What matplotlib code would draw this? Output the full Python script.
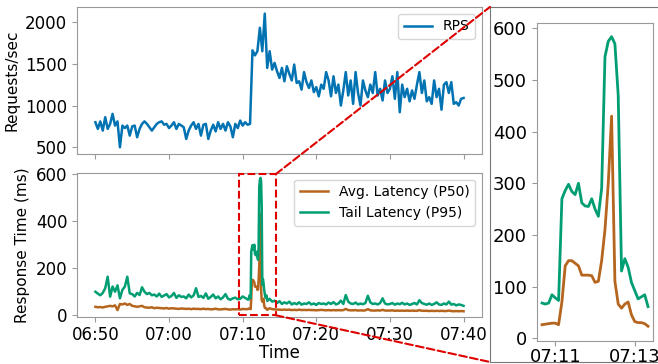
import matplotlib
matplotlib.use('Agg')
import matplotlib.pyplot as plt
import matplotlib.dates as mdates
from matplotlib.patches import Rectangle, ConnectionPatch
import pandas as pd

# ── RPS, one sample every 20 s from 06:50:00 to 07:40:00 ─────────
rps = [
    800, 720, 810, 700, 860, 720, 780, 900, 760, 810, 500, 760,
    730, 760, 640, 750, 760, 620, 720, 780, 810, 780, 740, 700,
    740, 780, 800, 810, 770, 780, 730, 760, 800, 720, 780, 760,
    740, 600, 700, 760, 800, 720, 780, 640, 770, 780, 600, 700,
    770, 690, 800, 720, 780, 700, 800, 750, 620, 780, 730, 820,
    760, 800, 770, 780, 1660, 1600,
    1650, 1930, 1650, 2100, 1450, 1650, 1430, 1510, 1410,
    1330, 1450, 1290, 1470, 1380, 1300, 1490, 1270, 1290,
    1190, 1400, 1280, 1210, 1300, 1160, 1220, 1110, 1250,
    1200, 1400, 1300, 1110, 1350, 1150, 1250, 1000, 1180,
    1400, 1120, 1300, 1020, 1400, 1150, 1000, 1300, 1180,
    1100, 1250, 1150, 1400, 1120, 1200, 1060, 1300, 1150,
    1200, 1350, 1080, 1400, 920, 1250, 1100, 1200, 1050,
    1180, 1080, 1250, 1400, 1150, 1300, 1050, 1100, 1020,
    1300, 1100, 1200, 950, 1250, 1280, 1150, 1280, 1020,
    1040, 1000, 1080, 1090,
]

# ── Latency (ms): 20 s samples before/after the incident, 5 s during ──
p95_pre = [
    100, 92, 85, 95, 115, 164, 79, 122, 100, 127, 72, 108,
    122, 164, 93, 90, 80, 95, 86, 119, 100, 90, 95, 85,
    88, 80, 92, 78, 84, 90, 76, 82, 95, 74, 85, 78,
    80, 72, 88, 76, 84, 115, 78, 82, 74, 93, 70, 78,
    88, 72, 80, 68, 76, 90, 70, 66, 72, 75, 68, 70,
    80, 74,
]
p50_pre = [
    36, 34, 35, 33, 36, 38, 40, 38, 42, 22, 48, 46,
    50, 44, 48, 40, 38, 36, 38, 40, 34, 33, 32, 34,
    30, 32, 31, 30, 29, 31, 28, 30, 29, 28, 27, 29,
    28, 27, 28, 26, 28, 27, 27, 26, 28, 26, 27, 25,
    26, 28, 25, 25, 26, 27, 25, 24, 26, 25, 26, 24,
    27, 26,
]
p95_zoom = [
    68, 66, 68, 84, 78, 73, 270, 286, 298, 284, 278, 300,
    262, 256, 255, 270, 250, 236, 290, 545, 575, 584, 570, 470,
    130, 154, 137, 108, 92, 76, 80, 84, 61,
]
p50_zoom = [
    26, 27, 28, 29, 29, 26, 70, 140, 150, 150, 145, 140,
    122, 122, 122, 121, 108, 110, 150, 210, 300, 430, 110, 66,
    58, 66, 70, 45, 32, 30, 30, 28, 23,
]
p95_post = [
    70, 58, 62, 52,
    60, 48, 55, 50, 58, 46, 52, 47, 55, 45, 50, 48, 55, 46, 50,
    44, 52, 48, 50, 46, 54, 48, 56, 46, 50, 62, 48, 86, 58, 50,
    48, 54, 46, 50, 47, 52, 83, 55, 48, 50, 46, 52, 72, 50, 46,
    48, 52, 45, 50, 47, 53, 46, 50, 44, 48, 52, 46, 64, 52, 48,
    45, 50, 44, 48, 55, 46, 44, 50, 46, 58, 45, 48, 42, 46, 44,
    40,
]
p50_post = [
    30, 26, 25, 24,
    24, 23, 24, 23, 24, 22, 23, 22, 24, 22, 23, 22, 23, 22, 22,
    21, 22, 23, 22, 21, 22, 21, 22, 21, 22, 21, 22, 27, 22, 21,
    21, 22, 20, 21, 20, 21, 26, 21, 20, 20, 21, 20, 23, 20, 20,
    20, 21, 19, 20, 19, 20, 19, 20, 19, 20, 19, 19, 22, 19, 19,
    19, 18, 19, 18, 19, 18, 19, 18, 18, 20, 18, 17, 18, 17, 18,
    17,
]

DAY = "2024-01-01 "
t_rps = pd.date_range(DAY + "06:50:00", periods=len(rps), freq="20s")
t_pre = pd.date_range(DAY + "06:50:00", periods=len(p95_pre), freq="20s")
t_zoom = pd.date_range(DAY + "07:10:40", periods=len(p95_zoom), freq="5s")
t_post = pd.date_range(DAY + "07:13:40", periods=len(p95_post), freq="20s")
t_lat = t_pre.append(t_zoom).append(t_post)
p95 = p95_pre + p95_zoom + p95_post
p50 = p50_pre + p50_zoom + p50_post

BLUE = '#0173B2'
BROWN = '#B5651D'
GREEN = '#029E73'
RED = '#e00000'
EDGE = '#999999'


def style(ax, size=12):
    for s in ax.spines.values():
        s.set_color(EDGE)
    ax.tick_params(labelsize=size, color=EDGE)


fig = plt.figure(figsize=(6.58, 3.64), dpi=100)
ax_rps = fig.add_axes([0.117, 0.577, 0.6155, 0.404])
ax_lat = fig.add_axes([0.117, 0.130, 0.6155, 0.3955], sharex=ax_rps)
frame = fig.add_axes([0.7447, 0.0055, 0.2538, 0.9755])
ax_zoom = fig.add_axes([0.8157, 0.064, 0.1772, 0.8736])

# top: throughput
ax_rps.plot(t_rps, rps, color=BLUE, lw=1.8, label='RPS')
ax_rps.set_ylabel('Requests/sec', fontsize=11)
ax_rps.legend(loc='upper right', fontsize=10)
ax_rps.tick_params(labelbottom=False)
style(ax_rps)

# bottom: latency
ax_lat.plot(t_lat, p50, color=BROWN, lw=1.8, label='Avg. Latency (P50)')
ax_lat.plot(t_lat, p95, color=GREEN, lw=1.8, label='Tail Latency (P95)')
ax_lat.set_ylim(-6, 606)
ax_lat.set_ylabel('Response Time (ms)', fontsize=11)
ax_lat.set_xlabel('Time', fontsize=12, labelpad=0)
ax_lat.legend(loc='upper right', fontsize=10)
ax_lat.xaxis.set_major_locator(mdates.MinuteLocator(byminute=range(0, 60, 10)))
ax_lat.xaxis.set_major_formatter(mdates.DateFormatter('%H:%M'))
style(ax_lat)

# zoom window marker
z0 = mdates.date2num(pd.Timestamp(DAY + "07:09:30"))
z1 = mdates.date2num(pd.Timestamp(DAY + "07:14:30"))
ax_lat.add_patch(Rectangle((z0, 0), z1 - z0, 600, fill=False, ec=RED,
                           ls='--', lw=1.5, zorder=5, clip_on=False))

# frame around the inset
frame.set_xticks([])
frame.set_yticks([])
frame.patch.set_alpha(0)
frame.spines['right'].set_visible(False)
for s in frame.spines.values():
    s.set_color('#777777')

# inset
ax_zoom.plot(t_zoom, p50_zoom, color=BROWN, lw=2)
ax_zoom.plot(t_zoom, p95_zoom, color=GREEN, lw=2)
ax_zoom.set_ylim(-5, 611)
ax_zoom.set_xlim(pd.Timestamp(DAY + "07:10:32"), pd.Timestamp(DAY + "07:13:28"))
ax_zoom.xaxis.set_major_locator(mdates.MinuteLocator(byminute=[11, 13]))
ax_zoom.xaxis.set_major_formatter(mdates.DateFormatter('%H:%M'))
ax_zoom.set_yticks([0, 100, 200, 300, 400, 500, 600])
style(ax_zoom, 13)
ax_zoom.tick_params(axis='x', pad=2)

for ya, yb in [(600, 1), (0, 0)]:
    con = ConnectionPatch(xyA=(z1, ya), coordsA=ax_lat.transData,
                          xyB=(0, yb), coordsB=frame.transAxes,
                          color=RED, ls='--', lw=1.5)
    fig.add_artist(con)

fig.savefig('out.png', dpi=100)
